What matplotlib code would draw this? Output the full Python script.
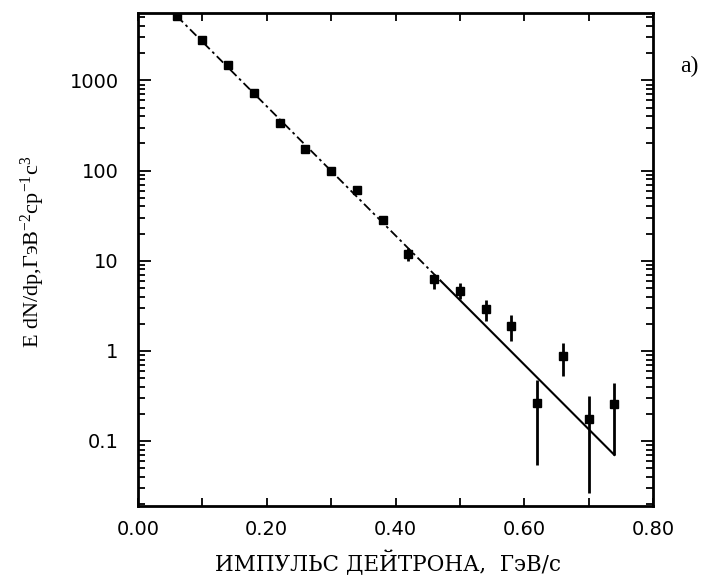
import matplotlib
matplotlib.use("Agg")
import matplotlib.pyplot as plt
from matplotlib.ticker import FixedLocator, NullFormatter, LogLocator, FixedFormatter

# ---- data ----
p_momentum = [0.06, 0.10, 0.14, 0.18, 0.22, 0.26, 0.30, 0.34, 0.38,
              0.42, 0.46, 0.50, 0.54, 0.58, 0.62, 0.66, 0.70, 0.74]
yield_vals = [5200, 2820, 1490, 732, 341, 172, 98, 61, 28.3,
              11.9, 6.3, 4.67, 2.88, 1.87, 0.262, 0.877, 0.176, 0.259]
err_upper = [5200, 2820, 1490, 732, 341, 172, 98, 61, 28.3,
             13.9, 7.2, 5.6, 3.63, 2.48, 0.472, 1.22, 0.316, 0.443]
err_lower = [5200, 2820, 1490, 732, 341, 172, 98, 61, 28.3,
             10.0, 4.9, 3.8, 2.12, 1.28, 0.0537, 0.526, 0.0264, 0.0703]

fit_dash_x = [0.06, 0.47]
fit_dash_y = [5200, 6.0]
fit_solid_x = [0.47, 0.74]
fit_solid_y = [6.0, 0.07]

x_ticks = [0.0, 0.2, 0.4, 0.6, 0.8]
x_tick_labels = ["0.00", "0.20", "0.40", "0.60", "0.80"]
x_minor_ticks = [0.1, 0.3, 0.5, 0.7]
y_ticks = [0.1, 1, 10, 100, 1000]
y_tick_labels = ["0.1", "1", "10", "100", "1000"]

ylabel_text = "E dN/dp,ГэВ$^{-2}$ср$^{-1}$с$^{3}$"
xlabel_text = "ИМПУЛЬС ДЕЙТРОНА,  ГэВ/с"
panel_text = "a)"

plt.rcParams["mathtext.fontset"] = "custom"
plt.rcParams["mathtext.rm"] = "Liberation Serif"
plt.rcParams["mathtext.it"] = "Liberation Serif:italic"
plt.rcParams["mathtext.bf"] = "Liberation Serif:bold"

fig = plt.figure(figsize=(7.01, 5.83), dpi=100)
ax = fig.add_axes([138 / 701, 1 - 506 / 583, 515 / 701, 493 / 583])

ax.set_yscale("log")
ax.set_xlim(0.0, 0.8)
ax.set_ylim(0.019, 5600)

# error bars
yerr = [[v - lo for v, lo in zip(yield_vals, err_lower)],
        [hi - v for v, hi in zip(yield_vals, err_upper)]]
ax.errorbar(p_momentum, yield_vals, yerr=yerr, fmt="s", color="black",
            markersize=5.8, elinewidth=2.0, capsize=0, zorder=3)

# fit line
ax.plot(fit_dash_x, fit_dash_y, color="black", lw=1.3,
        dashes=(5, 2.0, 1.5, 2.0), zorder=2)
ax.plot(fit_solid_x, fit_solid_y, color="black", lw=1.5, zorder=2)

# ticks
ax.xaxis.set_major_locator(FixedLocator(x_ticks))
ax.xaxis.set_major_formatter(FixedFormatter(x_tick_labels))
ax.xaxis.set_minor_locator(FixedLocator(x_minor_ticks))
ax.xaxis.set_minor_formatter(NullFormatter())
ax.yaxis.set_major_locator(FixedLocator(y_ticks))
ax.yaxis.set_major_formatter(FixedFormatter(y_tick_labels))
ax.yaxis.set_minor_locator(LogLocator(base=10, subs=range(2, 10)))
ax.yaxis.set_minor_formatter(NullFormatter())

ax.tick_params(axis="both", which="both", direction="in", top=True, right=True,
               width=1.3, color="black")
ax.tick_params(axis="x", which="both", length=6, pad=10, labelsize=14)
ax.tick_params(axis="y", which="major", length=9, pad=14, labelsize=14)
ax.tick_params(axis="y", which="minor", length=5)
for lab in ax.get_xticklabels() + ax.get_yticklabels():
    lab.set_family("DejaVu Sans")

for s in ax.spines.values():
    s.set_linewidth(2.0)

fig.text(33 / 701, 1 - 252 / 583, ylabel_text, rotation=90, ha="center",
         va="center", fontsize=16, family=["Liberation Serif", "DejaVu Serif"])
fig.text(388 / 701, 1 - 563 / 583, xlabel_text, ha="center", va="center",
         fontsize=15.5, family=["DejaVu Serif", "Liberation Serif"])
fig.text(689 / 701, 1 - 66 / 583, panel_text, ha="center", va="center",
         fontsize=17, family=["Liberation Serif", "DejaVu Serif"])

fig.savefig("out.png", dpi=100, facecolor="white")
